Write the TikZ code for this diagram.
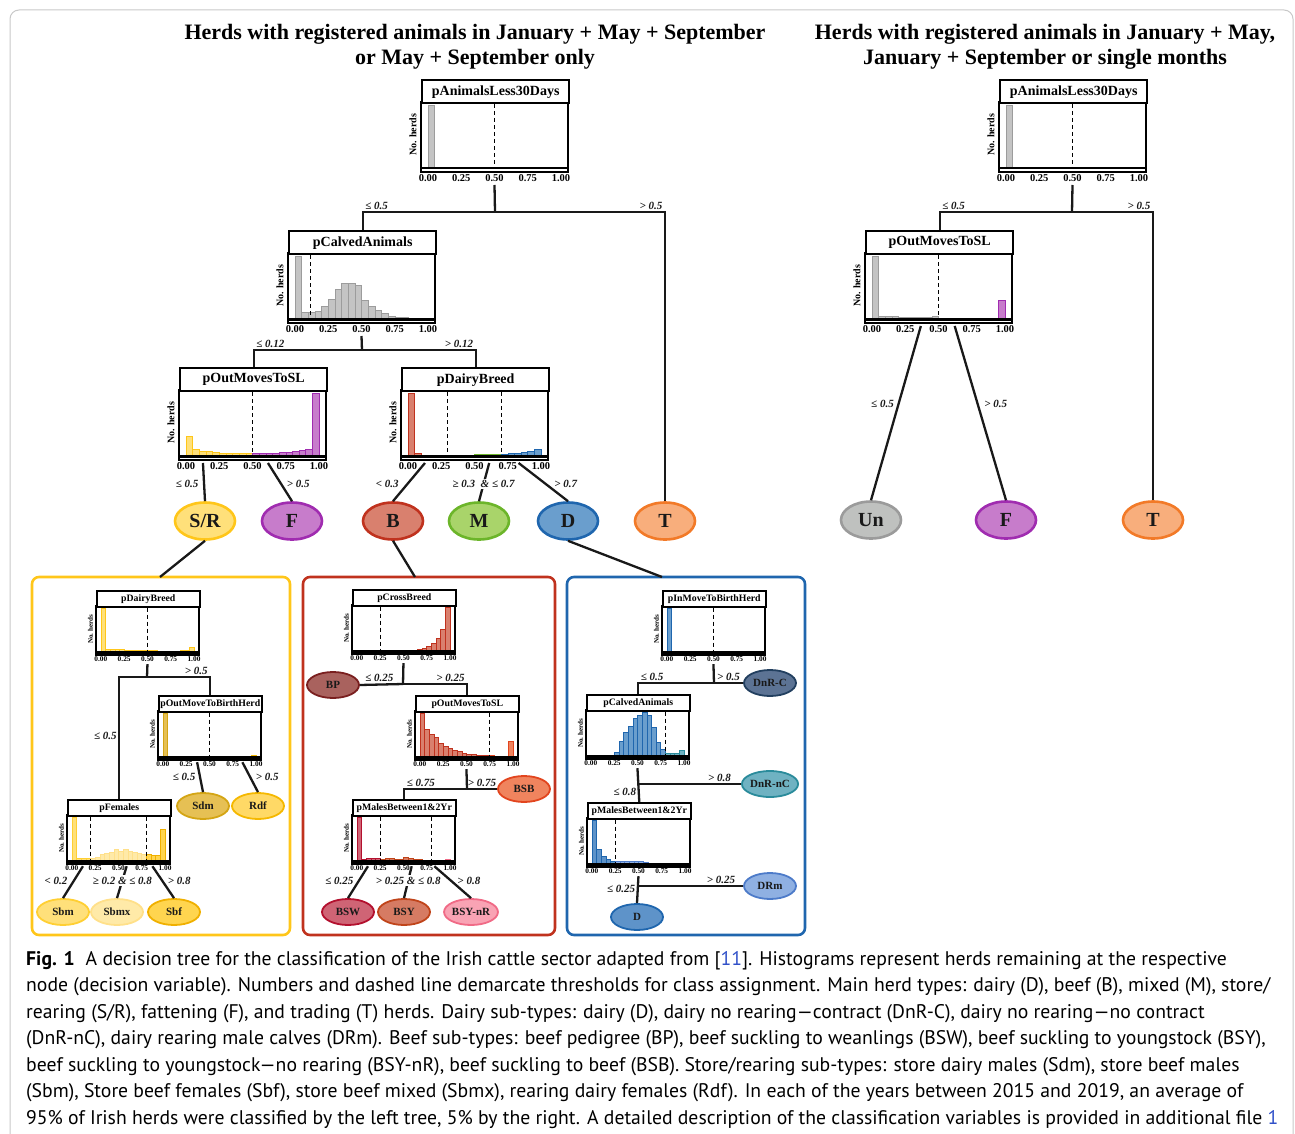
\documentclass[tikz,border=0pt]{standalone}
\usepackage{fontspec}
\setmainfont{PT Sans}
\newfontfamily\tnr{Liberation Serif}
\usetikzlibrary{positioning,calc,shapes.geometric}

% colours of classes (fill / line)
\definecolor{gryFill}{HTML}{C4C4C4}   \definecolor{gryLine}{HTML}{9C9C9C}
\definecolor{srFill}{HTML}{FFE07A}    \definecolor{srLine}{HTML}{FFC61A}
\definecolor{fpFill}{HTML}{C77CCB}    \definecolor{fpLine}{HTML}{A02CB0}
\definecolor{bbFill}{HTML}{D9806E}    \definecolor{bbLine}{HTML}{C0321E}
\definecolor{mmFill}{HTML}{A9D46A}    \definecolor{mmLine}{HTML}{6CB52A}
\definecolor{ddFill}{HTML}{6A9ECD}    \definecolor{ddLine}{HTML}{1F66AE}
\definecolor{ttFill}{HTML}{F8AE7C}    \definecolor{ttLine}{HTML}{F27A28}
\definecolor{unFill}{HTML}{BFC1BF}    \definecolor{unLine}{HTML}{9B9B9B}
\definecolor{sdmFill}{HTML}{E6C054}   \definecolor{sdmLine}{HTML}{D4A514}
\definecolor{rdfFill}{HTML}{FFD966}   \definecolor{rdfLine}{HTML}{F5B800}
\definecolor{sbmFill}{HTML}{FFE07A}   \definecolor{sbmLine}{HTML}{FFCF33}
\definecolor{sbmxFill}{HTML}{FFEAA8}  \definecolor{sbmxLine}{HTML}{FFE08A}
\definecolor{sbfFill}{HTML}{FFD54F}   \definecolor{sbfLine}{HTML}{F0B000}
\definecolor{bpFill}{HTML}{A9625E}    \definecolor{bpLine}{HTML}{7A1F1F}
\definecolor{bsbFill}{HTML}{F0845E}   \definecolor{bsbLine}{HTML}{E2451E}
\definecolor{bswFill}{HTML}{CF6475}   \definecolor{bswLine}{HTML}{B3102E}
\definecolor{bsyFill}{HTML}{D67B63}   \definecolor{bsyLine}{HTML}{C0441A}
\definecolor{bsynrFill}{HTML}{F9A3B4} \definecolor{bsynrLine}{HTML}{F06A86}
\definecolor{dnrcFill}{HTML}{5C7394}  \definecolor{dnrcLine}{HTML}{223F5F}
\definecolor{dnrncFill}{HTML}{6FB2C2} \definecolor{dnrncLine}{HTML}{2A8B9B}
\definecolor{drmFill}{HTML}{8FB0E2}   \definecolor{drmLine}{HTML}{4D7BC9}
\definecolor{dlfFill}{HTML}{5E93C9}   \definecolor{dlfLine}{HTML}{1F66AE}
\definecolor{capBlue}{HTML}{3050C8}
\definecolor{frameGray}{HTML}{C8C8C8}

\tikzstyle{panelHead} = [draw, line width=2.4pt, fill=white, minimum width=147pt, minimum height=23pt, inner sep=0pt, anchor=north west, font=\tnr\bfseries\fontsize{14}{16}\selectfont]
\tikzstyle{plotFrame} = [line width=2.4pt]
\tikzstyle{barStyle} = [line width=.5pt]
\tikzstyle{thresh} = [line width=1pt, dash pattern=on 4pt off 3pt]
\tikzstyle{tickLab} = [inner sep=0pt, font=\tnr\bfseries\fontsize{10.5}{12}\selectfont]
\tikzstyle{herdLab} = [rotate=90, inner sep=0pt, font=\tnr\bfseries\fontsize{10}{12}\selectfont]
\tikzstyle{branch} = [line width=2.3pt, color=black!90]
\tikzstyle{edgeLab} = [inner sep=1.5pt, font=\tnr\bfseries\itshape\fontsize{11}{12}\selectfont]
\tikzstyle{leafBig} = [ellipse, line width=2.6pt, minimum width=60pt, minimum height=37pt, inner sep=0pt, text=black!90, font=\tnr\bfseries\fontsize{20}{22}\selectfont]
\tikzstyle{leafSmall} = [ellipse, line width=1.8pt, minimum width=52pt, minimum height=26pt, inner sep=0pt, text=black!90, font=\tnr\bfseries\fontsize{11}{12}\selectfont]
\tikzstyle{groupBox} = [line width=2.6pt, rounded corners=7pt]
\tikzstyle{treeTitle} = [align=center, font=\tnr\bfseries\fontsize{22}{25}\selectfont]
\tikzstyle{capText} = [anchor=north west, align=left, inner sep=0pt, font=\fontsize{19.7}{26.5}\selectfont]

% #1 name, #2 x, #3 y, #4 scale, #5 title, #6 bars h/colour, #7 thresholds
\newcommand{\histPanel}[7]{%
  \begin{scope}[shift={(#2,#3)}, scale=#4, transform shape]
    \foreach \h/\col [count=\i from 0] in {#6} {
      \filldraw [barStyle, fill=\col Fill, draw=\col Line] ({7+6.65*\i},89) rectangle ({7+6.65*(\i+1)},{89-63*\h});
    }
    \foreach \t in {#7} {
      \draw [thresh] ({7+133*\t},25) -- ({7+133*\t},89);
    }
    \draw [plotFrame] (0,23) rectangle (147,93);
    \draw [plotFrame] (0,89.3) -- (147,89.3);
    \node [panelHead] (#1) at (0,0) {#5};
    \node [herdLab] (#1-y) at (-8,56) {No. herds};
    \foreach \v/\t [count=\k] in {0/0.00,0.25/0.25,0.5/0.50,0.75/0.75,1/1.00} {
      \node [tickLab] (#1-t\k) at ({7+133*\v},99) {\t};
    }
    \coordinate (#1-foot) at (73.5,106);
    \coordinate (#1-s0) at (0,96);
    \coordinate (#1-s1) at (147,96);
  \end{scope}}

\newcommand{\leaf}[5]{\node [#1, fill=#2Fill, draw=#2Line] (#3) at (#4) {#5};}

\begin{document}
\begin{tikzpicture}[x=1pt, y=-1pt]
\useasboundingbox (0,0) rectangle (1295,1134);
\draw [frameGray, line width=1pt, rounded corners=9pt] (10,1134) -- (10,10) -- (1293,10) -- (1293,1134);

% titles
\node [treeTitle] (titleL) at (475,47) {Herds with registered animals in January + May + September\\or May + September only};
\node [treeTitle] (titleR) at (1045,47) {Herds with registered animals in January + May,\\January + September or single months};

% left tree
\histPanel{pAnimL}{421}{79}{1}{pAnimalsLess30Days}{1/gry}{0.5}
\histPanel{pCalvL}{288}{230}{1}{pCalvedAnimals}{1/gry,.1/gry,.1/gry,.13/gry,.2/gry,.32/gry,.47/gry,.57/gry,.57/gry,.53/gry,.3/gry,.2/gry,.14/gry,.09/gry,.05/gry,.03/gry,.02/gry,.01/gry,.01/gry,.01/gry}{0.12}
\histPanel{pOutL}{179}{367}{1}{pOutMovesToSL}{.31/sr,.11/sr,.08/sr,.07/sr,.06/sr,.05/sr,.05/sr,.05/sr,.04/sr,.05/sr,.05/fp,.05/fp,.05/fp,.05/fp,.06/fp,.06/fp,.07/fp,.09/fp,.11/fp,1/fp}{0.5}
\histPanel{pDairyL}{401}{367}{1}{pDairyBreed}{1/bb,.04/bb,.01/bb,.01/bb,.01/bb,.01/bb,.01/mm,.01/mm,.01/mm,.015/mm,.02/mm,.02/mm,.02/mm,.03/mm,.03/dd,.04/dd,.05/dd,.06/dd,.08/dd,.1/dd}{0.3,0.7}

\leaf{leafBig}{sr}{SR}{205,521}{S/R}
\leaf{leafBig}{fp}{FL}{292,521}{F}
\leaf{leafBig}{bb}{BL}{393,521}{B}
\leaf{leafBig}{mm}{ML}{479,521}{M}
\leaf{leafBig}{dd}{DL}{568,521}{D}
\leaf{leafBig}{tt}{TL}{665,521}{T}

\coordinate (jL1) at (495,212);
\coordinate (jL2) at (362,350);
\draw [branch] (pAnimL-foot) -- (jL1);
\draw [branch] (jL1) -| node [edgeLab, pos=.5, above right] (lL1) {≤ 0.5} (pCalvL.north);
\draw [branch] (jL1) -| node [edgeLab, pos=.5, above left] (lL2) {> 0.5} (TL.north);
\draw [branch] (pCalvL-foot) -- (jL2);
\draw [branch] (jL2) -| node [edgeLab, pos=.5, above right] (lL3) {≤ 0.12} (pOutL.north);
\draw [branch] (jL2) -| node [edgeLab, pos=.5, above left] (lL4) {> 0.12} (pDairyL.north);
\draw [branch] ($(pOutL-s0)!.163!(pOutL-s1)$) -- node [edgeLab, pos=.55, left=3pt] (lL5) {≤ 0.5} (SR.north);
\draw [branch] ($(pOutL-s0)!.605!(pOutL-s1)$) -- node [edgeLab, pos=.55, right=3pt] (lL6) {> 0.5} (FL.north);
\draw [branch] ($(pDairyL-s0)!.163!(pDairyL-s1)$) -- node [edgeLab, pos=.55, left=6pt] (lL7) {< 0.3} (BL.north);
\draw [branch] ($(pDairyL-s0)!.6!(pDairyL-s1)$) -- node [edgeLab, pos=.55, fill=white] (lL8) {≥ 0.3 \ \& ≤ 0.7} (ML.north);
\draw [branch] ($(pDairyL-s0)!.8!(pDairyL-s1)$) -- node [edgeLab, pos=.55, right=6pt] (lL9) {> 0.7} (DL.north);

% right tree
\histPanel{pAnimR}{999}{79}{1}{pAnimalsLess30Days}{1/gry}{0.5}
\histPanel{pOutR}{865}{230}{1}{pOutMovesToSL}{1/gry,.04/gry,.04/gry,.04/gry,.03/gry,.03/gry,.03/gry,.02/gry,.02/gry,.04/gry,.01/fp,.01/fp,.005/fp,.015/fp,.015/fp,.01/fp,.005/fp,.005/fp,.005/fp,.3/fp}{0.5}

\leaf{leafBig}{un}{Un}{871,520}{Un}
\leaf{leafBig}{fp}{FR}{1006,520}{F}
\leaf{leafBig}{tt}{TR}{1153,520}{T}

\coordinate (jR1) at (1072,212);
\draw [branch] (pAnimR-foot) -- (jR1);
\draw [branch] (jR1) -| node [edgeLab, pos=.5, above right] (lR1) {≤ 0.5} (pOutR.north);
\draw [branch] (jR1) -| node [edgeLab, pos=.5, above left] (lR2) {> 0.5} (TR.north);
\draw [branch] ($(pOutR-s0)!.38!(pOutR-s1)$) -- node [edgeLab, pos=.45, left=2pt] (lR3) {≤ 0.5} (Un.north);
\draw [branch] ($(pOutR-s0)!.61!(pOutR-s1)$) -- node [edgeLab, pos=.45, right=4pt] (lR4) {> 0.5} (FR.north);

% store / rearing
\draw [groupBox, srLine] (32,577) rectangle (290,935);
\coordinate (yIn) at (160,577);
\draw [branch] (SR.south) -- (yIn);
\histPanel{ySdb}{96}{590}{.7}{pDairyBreed}{1/sr,.08/sr,.07/sr,.06/sr,.06/sr,.05/sr,.05/sr,.05/sr,.04/sr,.04/sr,.04/sr,.04/sr,.03/sr,.03/sr,.03/sr,.03/sr,.03/sr,.04/sr,.05/sr,.12/sr}{0.5}
\histPanel{yOmb}{158}{695}{.7}{pOutMoveToBirthHerd}{1/sdm,0/sdm,0/sdm,0/sdm,0/sdm,0/sdm,0/sdm,0/sdm,0/sdm,0/sdm,0/rdf,0/rdf,0/rdf,0/rdf,0/rdf,0/rdf,0/rdf,0/rdf,0/rdf,.05/rdf}{0.5}
\histPanel{yFem}{67}{799}{.7}{pFemales}{1/sbm,.06/sbm,.06/sbm,.06/sbm,.08/sbmx,.1/sbmx,.16/sbmx,.18/sbmx,.2/sbmx,.28/sbmx,.22/sbmx,.28/sbmx,.22/sbmx,.2/sbmx,.18/sbmx,.16/sbmx,.15/sbf,.14/sbf,.13/sbf,.72/sbf}{0.2,0.8}

\leaf{leafSmall}{sdm}{Sdm}{203,806}{Sdm}
\leaf{leafSmall}{rdf}{Rdf}{258,806}{Rdf}
\leaf{leafSmall}{sbm}{Sbm}{63,912}{Sbm}
\leaf{leafSmall}{sbmx}{Sbmx}{117,912}{Sbmx}
\leaf{leafSmall}{sbf}{Sbf}{174,912}{Sbf}

\coordinate (jY1) at (147,677);
\draw [branch] (ySdb-foot) -- (jY1);
\draw [branch] (jY1) -| node [edgeLab, pos=.5, above left] (lY1) {> 0.5} (yOmb.north);
\draw [branch] (jY1) -| node [edgeLab, pos=.74, left] (lY2) {≤ 0.5} (yFem.north);
\draw [branch] ($(yOmb-s0)!.38!(yOmb-s1)$) -- node [edgeLab, pos=.5, left=2pt] (lY3) {≤ 0.5} (Sdm.north);
\draw [branch] ($(yOmb-s0)!.82!(yOmb-s1)$) -- node [edgeLab, pos=.5, right=3pt] (lY4) {> 0.5} (Rdf.north);
\draw [branch] ($(yFem-s0)!.155!(yFem-s1)$) -- node [edgeLab, pos=.45, left=4pt] (lY5) {< 0.2} (Sbm.north);
\draw [branch] ($(yFem-s0)!.58!(yFem-s1)$) -- node [edgeLab, pos=.45, fill=white] (lY6) {≥ 0.2 \& ≤ 0.8} (Sbmx.north);
\draw [branch] ($(yFem-s0)!.83!(yFem-s1)$) -- node [edgeLab, pos=.45, right=3pt] (lY7) {> 0.8} (Sbf.north);

% beef
\draw [groupBox, bbLine] (303,577) rectangle (555,935);
\coordinate (bIn) at (415,577);
\draw [branch] (BL.south) -- (bIn);
\histPanel{rCross}{352}{589}{.7}{pCrossBreed}{.03/bp,0/bp,0/bp,0/bp,0/bp,0/bb,.005/bb,.005/bb,.01/bb,.01/bb,.01/bb,.02/bb,.03/bb,.05/bb,.08/bb,.12/bb,.18/bb,.3/bb,.5/bb,1/bb}{0.25}
\histPanel{rOut}{415}{695}{.7}{pOutMovesToSL}{1/bb,.64/bb,.52/bb,.45/bb,.33/bb,.24/bb,.2/bb,.17/bb,.13/bb,.1/bb,.07/bb,.06/bb,.05/bb,.05/bb,.04/bb,.04/bsb,.03/bsb,.03/bsb,.03/bsb,.36/bsb}{0.75}
\histPanel{rMal}{352}{799}{.7}{pMalesBetween1\&2Yr}{1/bsw,.05/bsw,.07/bsw,.08/bsw,.06/bsw,.05/bsy,.08/bsy,.06/bsy,.04/bsy,.05/bsy,.1/bsy,.06/bsy,.05/bsy,.04/bsy,.03/bsy,.03/bsy,.01/bsynr,.01/bsynr,.01/bsynr,.05/bsynr}{0.25,0.8}

\leaf{leafSmall}{bp}{BP}{333,685}{BP}
\leaf{leafSmall}{bsb}{BSB}{524,789}{BSB}
\leaf{leafSmall}{bsw}{BSW}{348,912}{BSW}
\leaf{leafSmall}{bsy}{BSY}{404,912}{BSY}
\leaf{leafSmall}{bsynr}{BSYnR}{471,912}{BSY-nR}

\coordinate (jB1) at (403,684);
\coordinate (jB2) at (467,789);
\draw [branch] (rCross-foot) -- (jB1);
\draw [branch] (jB1) -- node [edgeLab, pos=.55, above] (lB1) {≤ 0.25} (BP.east);
\draw [branch] (jB1) -| node [edgeLab, pos=.5, above left] (lB2) {> 0.25} (rOut.north);
\draw [branch] (rOut-foot) -- (jB2);
\draw [branch] (jB2) -| node [edgeLab, pos=.5, above right] (lB3) {≤ 0.75} (rMal.north);
\draw [branch] (jB2) -- node [edgeLab, pos=.5, above] (lB4) {> 0.75} (BSB.west);
\draw [branch] ($(rMal-s0)!.155!(rMal-s1)$) -- node [edgeLab, pos=.45, left=3pt] (lB5) {≤ 0.25} (BSW.north);
\draw [branch] ($(rMal-s0)!.58!(rMal-s1)$) -- node [edgeLab, pos=.45, fill=white] (lB6) {> 0.25 \& ≤ 0.8} (BSY.north);
\draw [branch] ($(rMal-s0)!.8!(rMal-s1)$) -- node [edgeLab, pos=.45, right=4pt] (lB7) {> 0.8} (BSYnR.north);

% dairy
\draw [groupBox, ddLine] (567,577) rectangle (805,935);
\coordinate (dIn) at (662,577);
\draw [branch] (DL.south) -- (dIn);
\histPanel{bInm}{662}{590}{.7}{pInMoveToBirthHerd}{1/dd,0/dd,0/dd,0/dd,0/dd,0/dd,0/dd,0/dd,0/dd,0/dd,0/dnrc,0/dnrc,0/dnrc,0/dnrc,0/dnrc,0/dnrc,0/dnrc,0/dnrc,0/dnrc,.02/dnrc}{0.5}
\histPanel{bCalv}{586}{694}{.7}{pCalvedAnimals}{0/dd,0/dd,0/dd,0/dd,0/dd,.09/dd,.34/dd,.54/dd,.69/dd,.86/dd,.92/dd,1/dd,.92/dd,.65/dd,.32/dd,.17/dd,.08/dnrnc,.08/dnrnc,.07/dnrnc,.14/dnrnc}{0.8}
\histPanel{bMal}{587}{802}{.7}{pMalesBetween1\&2Yr}{1/dlf,.35/dlf,.18/dlf,.12/dlf,.07/dlf,.06/drm,.06/drm,.06/drm,.07/drm,.08/drm,.06/drm,.04/drm,.02/drm,.01/drm,0/drm,0/drm,0/drm,0/drm,0/drm,0/drm}{0.25}

\leaf{leafSmall}{dnrc}{DnRC}{770,683}{DnR-C}
\leaf{leafSmall}{dnrnc}{DnRnC}{770,784}{DnR-nC}
\leaf{leafSmall}{drm}{DRm}{770,886}{DRm}
\leaf{leafSmall}{dlf}{Dl}{637,917}{D}

\coordinate (jD1) at (714,683);
\coordinate (jD2) at (638,784);
\coordinate (jD3) at (638,886);
\draw [branch] (bInm-foot) -- (jD1);
\draw [branch] (jD1) -| node [edgeLab, pos=.5, above right] (lD1) {≤ 0.5} (bCalv.north);
\draw [branch] (jD1) -- node [edgeLab, pos=.5, above] (lD2) {> 0.5} (DnRC.west);
\draw [branch] (bCalv-foot) -- node [edgeLab, pos=.7, left] (lD3) {≤ 0.8} (bMal.north);
\draw [branch] (jD2) -- node [edgeLab, pos=.79, above] (lD4) {> 0.8} (DnRnC.west);
\draw [branch] (bMal-foot) -- node [edgeLab, pos=.46, left] (lD5) {≤ 0.25} (Dl.north);
\draw [branch] (jD3) -- node [edgeLab, pos=.79, above] (lD6) {> 0.25} (DRm.west);

% caption
\node [capText] (caption) at (26,951) {\textbf{Fig. 1}\hspace{11pt}A decision tree for the classification of the Irish cattle sector adapted from [{\color{capBlue}11}]. Histograms represent herds remaining at the respective\\
node (decision variable). Numbers and dashed line demarcate thresholds for class assignment. Main herd types: dairy (D), beef (B), mixed (M), store/\\
rearing (S/R), fattening (F), and trading (T) herds. Dairy sub-types: dairy (D), dairy no rearing---contract (DnR-C), dairy no rearing---no contract\\
(DnR-nC), dairy rearing male calves (DRm). Beef sub-types: beef pedigree (BP), beef suckling to weanlings (BSW), beef suckling to youngstock (BSY),\\
beef suckling to youngstock---no rearing (BSY-nR), beef suckling to beef (BSB). Store/rearing sub-types: store dairy males (Sdm), store beef males\\
(Sbm), Store beef females (Sbf), store beef mixed (Sbmx), rearing dairy females (Rdf). In each of the years between 2015 and 2019, an average of\\
95\% of Irish herds were classified by the left tree, 5\% by the right. A detailed description of the classification variables is provided in additional file {\color{capBlue}1}};
\end{tikzpicture}
\end{document}
